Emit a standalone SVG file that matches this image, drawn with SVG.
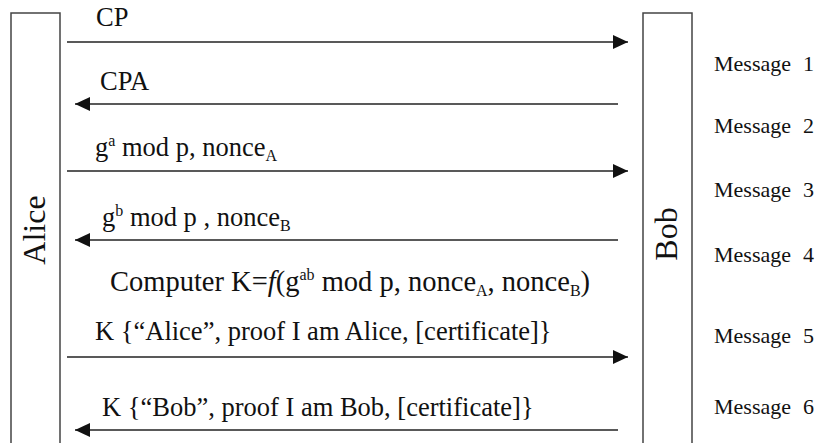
<svg xmlns="http://www.w3.org/2000/svg" width="822" height="443" viewBox="0 0 822 443">
  <style>
    .box { fill: none; stroke: #444; stroke-width: 1.5; }
    .msg { stroke: #222; stroke-width: 1.5; fill: none; }
    .lbl { font-size: 26.5px; }
    .who { font-size: 32px; text-anchor: middle; }
    .step { font-size: 22px; }
    .calc { font-size: 28.5px; }
    .sup { font-size: 16px; }
  </style>
  <defs>
    <marker id="head" markerUnits="userSpaceOnUse" markerWidth="15" markerHeight="14" refX="15" refY="7" orient="auto">
      <path d="M0,0 L15,7 L0,14 z" fill="#111"/>
    </marker>
  </defs>

  <g font-family="Liberation Serif, DejaVu Serif, serif" fill="#111">
  <!-- participants -->
  <g id="alice">
    <polyline class="box" points="11,443 11,13 60,13 60,443"/>
    <text class="who" x="45" y="230" transform="rotate(-90 45 230)">Alice</text>
  </g>
  <g id="bob">
    <polyline class="box" points="643,443 643,13 692,13 692,443"/>
    <text class="who" x="677" y="234" transform="rotate(-90 677 234)">Bob</text>
  </g>

  <!-- exchanged messages -->
  <g id="connectors">
    <line class="msg" x1="67" y1="42" x2="628" y2="42" marker-end="url(#head)"/>
    <line class="msg" x1="618" y1="104" x2="75" y2="104" marker-end="url(#head)"/>
    <line class="msg" x1="67" y1="171" x2="628" y2="171" marker-end="url(#head)"/>
    <line class="msg" x1="618" y1="240" x2="75" y2="240" marker-end="url(#head)"/>
    <line class="msg" x1="67" y1="357" x2="628" y2="357" marker-end="url(#head)"/>
    <line class="msg" x1="618" y1="430" x2="75" y2="430" marker-end="url(#head)"/>

    <text class="lbl" x="96" y="26">CP</text>
    <text class="lbl" x="100" y="90">CPA</text>
    <text class="lbl" x="95" y="156">g<tspan class="sup" dy="-10">a</tspan><tspan dy="10"> mod p, nonce</tspan><tspan class="sup" dy="5">A</tspan></text>
    <text class="lbl" x="102" y="226">g<tspan class="sup" dy="-10">b</tspan><tspan dy="10"> mod p , nonce</tspan><tspan class="sup" dy="5">B</tspan></text>
    <text class="lbl" x="95" y="340">K {“Alice”, proof I am Alice, [certificate]}</text>
    <text class="lbl" x="102" y="416">K {“Bob”, proof I am Bob, [certificate]}</text>
  </g>

  <!-- key derivation -->
  <text class="calc" x="110" y="291">Computer K=<tspan font-style="italic">f</tspan>(g<tspan class="sup" dy="-11">ab</tspan><tspan dy="11"> mod p, nonce</tspan><tspan class="sup" dy="5">A</tspan><tspan dy="-5">, nonce</tspan><tspan class="sup" dy="5">B</tspan><tspan dy="-5">)</tspan></text>

  <!-- message numbering -->
  <g id="steps">
    <text class="step" x="714" y="71">Message<tspan x="803">1</tspan></text>
    <text class="step" x="714" y="133">Message<tspan x="803">2</tspan></text>
    <text class="step" x="714" y="197">Message<tspan x="803">3</tspan></text>
    <text class="step" x="714" y="262">Message<tspan x="803">4</tspan></text>
    <text class="step" x="714" y="343">Message<tspan x="803">5</tspan></text>
    <text class="step" x="714" y="414">Message<tspan x="803">6</tspan></text>
  </g>
  </g>
</svg>
